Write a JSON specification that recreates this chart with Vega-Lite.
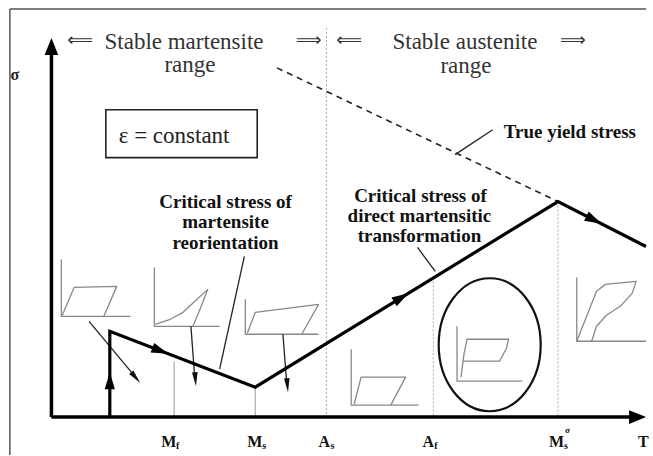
{
  "$schema": "https://vega.github.io/schema/vega-lite/v6.json",
  "width": 653,
  "height": 456,
  "autosize": {"type": "fit", "contains": "padding"},
  "padding": 0,
  "background": "white",
  "config": {"view": {"stroke": null}},
  "datasets": {
    "frame": [
      {"x": 10, "y": 9, "x2": 10, "y2": 456},
      {"x": 10, "y": 9, "x2": 653, "y2": 9}
    ],
    "guides": [
      {"x": 176, "y": 362, "x2": 176, "y2": 418, "k": "solid"},
      {"x": 258, "y": 388, "x2": 258, "y2": 418, "k": "solid"},
      {"x": 330, "y": 28, "x2": 330, "y2": 418, "k": "dot"},
      {"x": 438, "y": 282, "x2": 438, "y2": 418, "k": "dot"},
      {"x": 564, "y": 202, "x2": 564, "y2": 418, "k": "dot"}
    ],
    "axes": [
      {"x": 52, "y": 418, "x2": 52, "y2": 50},
      {"x": 52, "y": 418, "x2": 642, "y2": 418}
    ],
    "leaders": [
      {"x": 247, "y": 257, "x2": 222, "y2": 370},
      {"x": 422, "y": 248, "x2": 440, "y2": 272},
      {"x": 460, "y": 155, "x2": 498, "y2": 130},
      {"x": 90, "y": 322, "x2": 137, "y2": 378},
      {"x": 193, "y": 327, "x2": 197, "y2": 381},
      {"x": 286, "y": 335, "x2": 290, "y2": 387}
    ],
    "dashed": [
      {"x": 280, "y": 68, "x2": 564, "y2": 202}
    ],
    "path": [
      {"i": 0, "x": 111, "y": 418},
      {"i": 1, "x": 111, "y": 332},
      {"i": 2, "x": 258, "y": 388},
      {"i": 3, "x": 564, "y": 202},
      {"i": 4, "x": 653, "y": 247}
    ],
    "insets": [
      {"id": "a1", "i": 0, "x": 62, "y": 260}, {"id": "a1", "i": 1, "x": 62, "y": 317}, {"id": "a1", "i": 2, "x": 132, "y": 317},
      {"id": "l1", "i": 0, "x": 63, "y": 316}, {"id": "l1", "i": 1, "x": 75, "y": 288}, {"id": "l1", "i": 2, "x": 118, "y": 287}, {"id": "l1", "i": 3, "x": 105, "y": 317},
      {"id": "a2", "i": 0, "x": 156, "y": 268}, {"id": "a2", "i": 1, "x": 156, "y": 327}, {"id": "a2", "i": 2, "x": 222, "y": 327},
      {"id": "l2", "i": 0, "x": 157, "y": 325}, {"id": "l2", "i": 1, "x": 172, "y": 320}, {"id": "l2", "i": 2, "x": 185, "y": 313}, {"id": "l2", "i": 3, "x": 197, "y": 302}, {"id": "l2", "i": 4, "x": 210, "y": 290}, {"id": "l2", "i": 5, "x": 203, "y": 308}, {"id": "l2", "i": 6, "x": 195, "y": 327},
      {"id": "a3", "i": 0, "x": 248, "y": 300}, {"id": "a3", "i": 1, "x": 248, "y": 335}, {"id": "a3", "i": 2, "x": 322, "y": 335},
      {"id": "l3", "i": 0, "x": 250, "y": 334}, {"id": "l3", "i": 1, "x": 258, "y": 313}, {"id": "l3", "i": 2, "x": 322, "y": 305}, {"id": "l3", "i": 3, "x": 305, "y": 335},
      {"id": "a4", "i": 0, "x": 355, "y": 350}, {"id": "a4", "i": 1, "x": 355, "y": 406}, {"id": "a4", "i": 2, "x": 423, "y": 406},
      {"id": "l4", "i": 0, "x": 358, "y": 405}, {"id": "l4", "i": 1, "x": 365, "y": 378}, {"id": "l4", "i": 2, "x": 410, "y": 378}, {"id": "l4", "i": 3, "x": 395, "y": 406},
      {"id": "a5", "i": 0, "x": 462, "y": 327}, {"id": "a5", "i": 1, "x": 462, "y": 382}, {"id": "a5", "i": 2, "x": 528, "y": 382},
      {"id": "l5", "i": 0, "x": 466, "y": 378}, {"id": "l5", "i": 1, "x": 469, "y": 355}, {"id": "l5", "i": 2, "x": 472, "y": 340}, {"id": "l5", "i": 3, "x": 514, "y": 340}, {"id": "l5", "i": 4, "x": 512, "y": 349}, {"id": "l5", "i": 5, "x": 505, "y": 362}, {"id": "l5", "i": 6, "x": 468, "y": 362},
      {"id": "a6", "i": 0, "x": 583, "y": 278}, {"id": "a6", "i": 1, "x": 583, "y": 342}, {"id": "a6", "i": 2, "x": 653, "y": 342},
      {"id": "l6", "i": 0, "x": 583, "y": 342}, {"id": "l6", "i": 1, "x": 593, "y": 317}, {"id": "l6", "i": 2, "x": 603, "y": 292}, {"id": "l6", "i": 3, "x": 612, "y": 285}, {"id": "l6", "i": 4, "x": 643, "y": 282}, {"id": "l6", "i": 5, "x": 639, "y": 294}, {"id": "l6", "i": 6, "x": 627, "y": 307}, {"id": "l6", "i": 7, "x": 613, "y": 316}, {"id": "l6", "i": 8, "x": 603, "y": 327}, {"id": "l6", "i": 9, "x": 598, "y": 342}
    ],
    "arrows": [
      {"k": "main", "x": 111, "y": 381.5, "dir": 0},
      {"k": "main", "x": 162.1, "y": 351.5, "dir": 110.9},
      {"k": "main", "x": 405.7, "y": 298.2, "dir": 58.7},
      {"k": "main", "x": 600.4, "y": 220.4, "dir": 116.8},
      {"k": "axis", "x": 52, "y": 46.5, "dir": 0},
      {"k": "axis", "x": 644.5, "y": 418, "dir": 90},
      {"k": "small", "x": 137.2, "y": 378.4, "dir": 140.1},
      {"k": "small", "x": 197.5, "y": 380, "dir": 175.2},
      {"k": "small", "x": 290.5, "y": 386, "dir": 175.1}
    ],
    "box": [{"x": 107, "y": 110, "x2": 260, "y2": 158}],
    "ellipse": [{"x": 495, "y": 345.5}],
    "header": [
      {"x": 186, "y": 49, "t": "Stable martensite"},
      {"x": 192, "y": 72, "t": "range"},
      {"x": 470, "y": 49, "t": "Stable austenite"},
      {"x": 471, "y": 73, "t": "range"}
    ],
    "harrows": [
      {"x": 81, "y": 41, "t": "⟸"},
      {"x": 312, "y": 41, "t": "⟹"},
      {"x": 353, "y": 41, "t": "⟸"},
      {"x": 579, "y": 41, "t": "⟹"}
    ],
    "bold": [
      {"x": 228, "y": 208, "t": "Critical stress of"},
      {"x": 228, "y": 229, "t": "martensite"},
      {"x": 228, "y": 250, "t": "reorientation"},
      {"x": 425, "y": 202, "t": "Critical stress of"},
      {"x": 424, "y": 222, "t": "direct martensitic"},
      {"x": 424, "y": 243, "t": "transformation"},
      {"x": 576, "y": 138, "t": "True yield stress"}
    ],
    "eps": [{"x": 176, "y": 143, "t": "ε = constant"}],
    "sigma": [{"x": 15, "y": 80, "t": "σ"}],
    "axlab": [
      {"x": 163, "y": 448, "t": "M"},
      {"x": 250, "y": 448, "t": "M"},
      {"x": 322, "y": 448, "t": "A"},
      {"x": 427, "y": 448, "t": "A"},
      {"x": 555, "y": 448, "t": "M"},
      {"x": 645, "y": 448, "t": "T"}
    ],
    "sub": [
      {"x": 178, "y": 450, "t": "f"},
      {"x": 265, "y": 450, "t": "s"},
      {"x": 334, "y": 450, "t": "s"},
      {"x": 439, "y": 450, "t": "f"},
      {"x": 570, "y": 450, "t": "s"}
    ],
    "sup": [{"x": 571, "y": 434, "t": "σ"}]
  },
  "encoding": {
    "x": {"field": "x", "type": "quantitative", "scale": {"domain": [0, 653], "nice": false, "zero": false}, "axis": null},
    "y": {"field": "y", "type": "quantitative", "scale": {"domain": [0, 456], "nice": false, "zero": false, "reverse": true}, "axis": null}
  },
  "layer": [
    {
      "data": {"name": "frame"},
      "mark": {"type": "rule", "color": "#555", "strokeWidth": 1.5},
      "encoding": {"x2": {"field": "x2"}, "y2": {"field": "y2"}}
    },
    {
      "data": {"name": "guides"},
      "transform": [{"filter": "datum.k === 'solid'"}],
      "mark": {"type": "rule", "color": "#999", "strokeWidth": 1},
      "encoding": {"x2": {"field": "x2"}, "y2": {"field": "y2"}}
    },
    {
      "data": {"name": "guides"},
      "transform": [{"filter": "datum.k === 'dot'"}],
      "mark": {"type": "rule", "color": "#aaa", "strokeWidth": 1, "strokeDash": [2, 2]},
      "encoding": {"x2": {"field": "x2"}, "y2": {"field": "y2"}}
    },
    {
      "data": {"name": "insets"},
      "mark": {"type": "line", "color": "#888", "strokeWidth": 1.3, "strokeJoin": "round"},
      "encoding": {"detail": {"field": "id"}, "order": {"field": "i", "type": "quantitative"}}
    },
    {
      "data": {"name": "box"},
      "mark": {"type": "rect", "fill": null, "fillOpacity": 0, "stroke": "#222", "strokeWidth": 1.6},
      "encoding": {"x2": {"field": "x2"}, "y2": {"field": "y2"}}
    },
    {
      "data": {"name": "ellipse"},
      "mark": {"type": "point", "shape": "M -0.767 0 A 0.767 1 0 1 0 0.767 0 A 0.767 1 0 1 0 -0.767 0 Z", "filled": false, "color": "#111", "strokeWidth": 2.2, "size": 17689, "opacity": 1}
    },
    {
      "data": {"name": "leaders"},
      "mark": {"type": "rule", "color": "#222", "strokeWidth": 1.3},
      "encoding": {"x2": {"field": "x2"}, "y2": {"field": "y2"}}
    },
    {
      "data": {"name": "dashed"},
      "mark": {"type": "rule", "color": "#222", "strokeWidth": 1.6, "strokeDash": [6, 5]},
      "encoding": {"x2": {"field": "x2"}, "y2": {"field": "y2"}}
    },
    {
      "data": {"name": "axes"},
      "mark": {"type": "rule", "color": "#000", "strokeWidth": 3.5},
      "encoding": {"x2": {"field": "x2"}, "y2": {"field": "y2"}}
    },
    {
      "data": {"name": "path"},
      "mark": {"type": "line", "color": "#000", "strokeWidth": 3.2, "strokeJoin": "miter"},
      "encoding": {"order": {"field": "i", "type": "quantitative"}}
    },
    {
      "data": {"name": "arrows"},
      "transform": [{"filter": "datum.k === 'main'"}],
      "mark": {"type": "point", "shape": "M0,-1L0.6,1L-0.6,1Z", "filled": true, "color": "#000", "size": 289, "opacity": 1},
      "encoding": {"angle": {"field": "dir", "type": "quantitative", "scale": {"domain": [0, 360], "range": [0, 360]}}}
    },
    {
      "data": {"name": "arrows"},
      "transform": [{"filter": "datum.k === 'axis'"}],
      "mark": {"type": "point", "shape": "M0,-1L0.8,1L-0.8,1Z", "filled": true, "color": "#000", "size": 289, "opacity": 1},
      "encoding": {"angle": {"field": "dir", "type": "quantitative", "scale": {"domain": [0, 360], "range": [0, 360]}}}
    },
    {
      "data": {"name": "arrows"},
      "transform": [{"filter": "datum.k === 'small'"}],
      "mark": {"type": "point", "shape": "M0,-1L0.4,1L-0.4,1Z", "filled": true, "color": "#111", "size": 196, "opacity": 1},
      "encoding": {"angle": {"field": "dir", "type": "quantitative", "scale": {"domain": [0, 360], "range": [0, 360]}}}
    },
    {
      "data": {"name": "header"},
      "mark": {"type": "text", "font": "Liberation Serif", "fontSize": 23, "align": "center", "baseline": "alphabetic", "color": "#333"},
      "encoding": {"text": {"field": "t"}}
    },
    {
      "data": {"name": "harrows"},
      "mark": {"type": "text", "font": "DejaVu Sans", "fontSize": 18, "align": "center", "baseline": "middle", "color": "#333"},
      "encoding": {"text": {"field": "t"}}
    },
    {
      "data": {"name": "bold"},
      "mark": {"type": "text", "font": "Liberation Serif", "fontSize": 19, "fontWeight": "bold", "align": "center", "baseline": "alphabetic", "color": "#111"},
      "encoding": {"text": {"field": "t"}}
    },
    {
      "data": {"name": "eps"},
      "mark": {"type": "text", "font": "Liberation Serif", "fontSize": 23, "align": "center", "baseline": "alphabetic", "color": "#222"},
      "encoding": {"text": {"field": "t"}}
    },
    {
      "data": {"name": "sigma"},
      "mark": {"type": "text", "font": "Liberation Serif", "fontSize": 16, "fontWeight": "bold", "align": "center", "baseline": "alphabetic", "color": "#222"},
      "encoding": {"text": {"field": "t"}}
    },
    {
      "data": {"name": "axlab"},
      "mark": {"type": "text", "font": "Liberation Serif", "fontSize": 16, "fontWeight": "bold", "align": "left", "baseline": "alphabetic", "color": "#111"},
      "encoding": {"text": {"field": "t"}}
    },
    {
      "data": {"name": "sub"},
      "mark": {"type": "text", "font": "Liberation Serif", "fontSize": 10, "fontWeight": "bold", "align": "left", "baseline": "alphabetic", "color": "#111"},
      "encoding": {"text": {"field": "t"}}
    },
    {
      "data": {"name": "sup"},
      "mark": {"type": "text", "font": "Liberation Serif", "fontSize": 9, "fontWeight": "bold", "align": "left", "baseline": "alphabetic", "color": "#111"},
      "encoding": {"text": {"field": "t"}}
    }
  ]
}
